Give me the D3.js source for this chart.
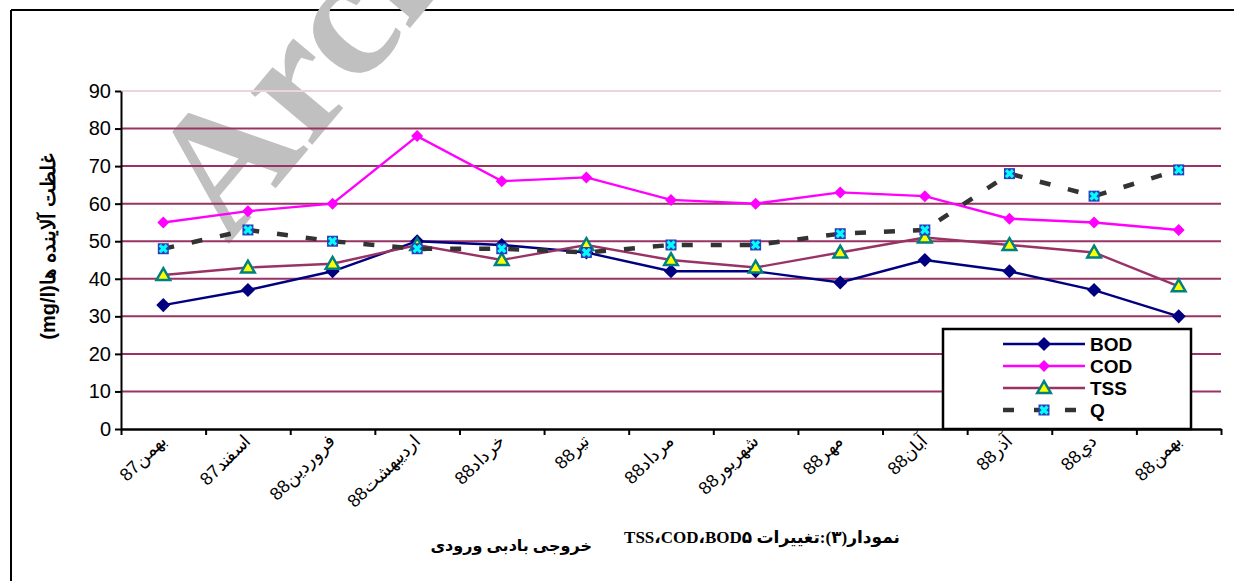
<!DOCTYPE html>
<html>
<head>
<meta charset="utf-8">
<script src="https://cdn.jsdelivr.net/npm/d3@7"></script>
<style>
  body { margin: 0; background: #fff; }
  text { font-family: "Liberation Sans", Arial, sans-serif; }
</style>
</head>
<body>
<svg id="chart" width="1234" height="581"></svg>
<script>
// values
var months = ["بهمن87", "اسفند87", "فروردین88", "اردیبهشت88", "خرداد88", "تیر88", "مرداد88",
              "شهریور88", "مهر88", "آبان88", "آذر88", "دي88", "بهمن88"];
var bod = [33, 37, 42, 50, 49, 47, 42, 42, 39, 45, 42, 37, 30];
var cod = [55, 58, 60, 78, 66, 67, 61, 60, 63, 62, 56, 55, 53];
var tss = [41, 43, 44, 49, 45, 49, 45, 43, 47, 51, 49, 47, 38];
var q   = [48, 53, 50, 48, 48, 47, 49, 49, 52, 53, 68, 62, 69];
var yTicks = [0, 10, 20, 30, 40, 50, 60, 70, 80, 90];
var seriesNames = ["BOD", "COD", "TSS", "Q"];

var svg = d3.select("#chart");
var pL = 121, pR = 1221, pT = 91, pB = 429;

var x = d3.scaleBand().domain(months).range([pL, pR]).padding(0);
var xEdge = d3.scaleLinear().domain([0, months.length]).range([pL, pR]);
var y = d3.scaleLinear().domain([0, 90]).range([pB, pT]);
var cx = function(i) { return x(months[i]) + x.bandwidth() / 2; };

// outer frame
svg.append("line").attr("x1", 11).attr("x2", 1234).attr("y1", 10).attr("y2", 10)
  .attr("stroke", "#000").attr("stroke-width", 2);
svg.append("line").attr("x1", 11).attr("x2", 11).attr("y1", 10).attr("y2", 581)
  .attr("stroke", "#000").attr("stroke-width", 2);

// watermark
svg.append("text")
  .attr("transform", "translate(228,245) rotate(-50)")
  .attr("font-size", 175).attr("fill", "#c0c0c0")
  .attr("font-weight", "bold")
  .style("font-family", "'Liberation Serif', serif")
  .text("Archive of SID");

// gridlines
svg.append("g").selectAll("line").data(yTicks.filter(function(d) { return d > 0; }))
  .join("line")
  .attr("x1", pL).attr("x2", pR)
  .attr("y1", function(d) { return y(d); }).attr("y2", function(d) { return y(d); })
  .attr("stroke", function(d) { return d === 90 ? "#ecd3dd" : "#993366"; })
  .attr("stroke-width", 2);

// y axis
var yAxis = svg.append("g").attr("transform", "translate(" + pL + ",0)")
  .call(d3.axisLeft(y).tickValues(yTicks).tickSize(6).tickSizeOuter(0).tickPadding(4));
yAxis.select(".domain").attr("stroke-width", 2);
yAxis.selectAll(".tick line").attr("stroke-width", 2);
yAxis.selectAll(".tick text").attr("font-size", 20).attr("fill", "#000")
  .style("font-family", "'Liberation Sans', Arial, sans-serif");

// x axis (ticks at category boundaries)
var xAxis = svg.append("g").attr("transform", "translate(0," + pB + ")")
  .call(d3.axisBottom(xEdge).tickValues(d3.range(months.length + 1)).tickSize(6)
    .tickSizeOuter(0).tickFormat(""));
xAxis.select(".domain").attr("stroke-width", 2.5);
xAxis.selectAll(".tick line").attr("stroke-width", 2);

svg.append("g").selectAll("text").data(months).join("text")
  .attr("transform", function(d, i) {
    return "translate(" + (cx(i) + 4) + "," + (pB + 13) + ") rotate(-45)";
  })
  .attr("text-anchor", "end")
  .attr("font-size", 18)
  .text(function(d) { return d; });

// y axis title
svg.append("text")
  .attr("transform", "translate(55,247) rotate(-90)")
  .attr("text-anchor", "middle")
  .attr("direction", "rtl")
  .attr("font-size", 20).attr("font-weight", "bold")
  .text("غلظت آلاینده ها(mg/l)");

// series
var line = d3.line().x(function(d, i) { return cx(i); }).y(function(d) { return y(d); });
var diamond = function(s) { return d3.symbol(d3.symbolSquare, s)(); };

function drawMarker(g, name) {
  if (name === "BOD") {
    g.append("path").attr("d", diamond(100)).attr("transform", "rotate(45)")
      .attr("fill", "#000080");
  } else if (name === "COD") {
    g.append("path").attr("d", diamond(72)).attr("transform", "rotate(45)")
      .attr("fill", "#ff00ff");
  } else if (name === "TSS") {
    g.append("path").attr("d", d3.symbol(d3.symbolTriangle, 80)())
      .attr("transform", "translate(0,1)")
      .attr("fill", "#ffff00").attr("stroke", "#008080").attr("stroke-width", 2.5);
  } else {
    g.append("rect").attr("x", -5.5).attr("y", -5.5).attr("width", 11).attr("height", 11)
      .attr("fill", "#2b3fb8");
    g.append("path").attr("d", "M-3.5,-3.5L3.5,3.5M3.5,-3.5L-3.5,3.5")
      .attr("stroke", "#00ffff").attr("stroke-width", 3.2);
  }
}

var series = [
  { name: "BOD", values: bod, color: "#000080", width: 2.4, dash: null },
  { name: "COD", values: cod, color: "#ff00ff", width: 2.4, dash: null },
  { name: "TSS", values: tss, color: "#993366", width: 2.4, dash: null },
  { name: "Q",   values: q,   color: "#333333", width: 4.5, dash: "11,18" }
];

series.forEach(function(s) {
  svg.append("path").datum(s.values)
    .attr("d", line).attr("fill", "none")
    .attr("stroke", s.color).attr("stroke-width", s.width)
    .attr("stroke-dasharray", s.dash);
  s.values.forEach(function(v, i) {
    var g = svg.append("g").attr("transform", "translate(" + cx(i) + "," + y(v) + ")");
    drawMarker(g, s.name);
  });
});

// legend
var lg = svg.append("g");
lg.append("rect").attr("x", 943).attr("y", 329).attr("width", 248).attr("height", 100)
  .attr("fill", "#fff").attr("stroke", "#000").attr("stroke-width", 2.5);
var legY = d3.scalePoint().domain(seriesNames).range([344, 410]);
series.forEach(function(s) {
  var yy = legY(s.name);
  lg.append("line").attr("x1", 1003).attr("x2", 1085).attr("y1", yy).attr("y2", yy)
    .attr("stroke", s.color).attr("stroke-width", s.name === "Q" ? 4.5 : 2.4)
    .attr("stroke-dasharray", s.name === "Q" ? "11,20" : null);
  drawMarker(lg.append("g").attr("transform", "translate(1044," + yy + ")"), s.name);
  lg.append("text").attr("x", 1090).attr("y", yy + 7)
    .attr("font-size", 19).attr("font-weight", "bold")
    .text(s.name);
});

// caption
svg.append("text")
  .attr("x", 900).attr("y", 543)
  .attr("direction", "rtl").attr("text-anchor", "start")
  .attr("font-size", 17).attr("font-weight", "bold")
  .style("font-family", "'Liberation Serif', 'DejaVu Sans', serif")
  .text("نمودار(۳):تغییرات BOD۵\u200F،\u200FCOD\u200F،\u200FTSS");
svg.append("text")
  .attr("x", 592).attr("y", 551)
  .attr("direction", "rtl").attr("text-anchor", "start")
  .attr("font-size", 16).attr("font-weight", "bold")
  .style("font-family", "'Liberation Serif', 'DejaVu Sans', serif")
  .text("خروجی بادبی ورودی");
</script>
</body>
</html>
